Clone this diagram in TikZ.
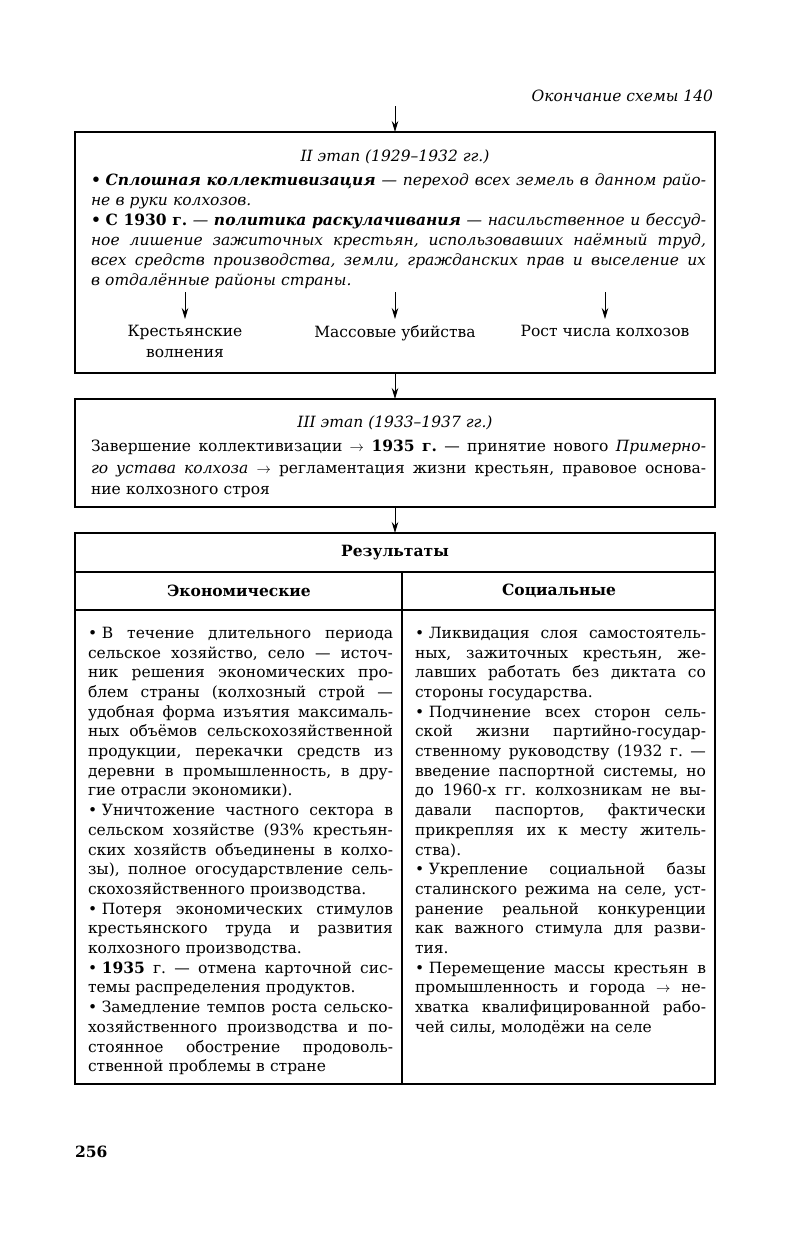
\documentclass[tikz,border=0pt]{standalone}
\usepackage{fontspec}
\setmainfont{DejaVu Serif}
\usetikzlibrary{arrows.meta}
\newcommand{\JX}[2]{\leavevmode\hbox to #1{\frenchspacing\spaceskip=0.3em plus 3em minus 0.08em\relax #2}}
\newcommand{\JB}[1]{\JX{615pt}{#1}}
\newcommand{\JL}[1]{\JX{305pt}{#1}}
\newcommand{\JR}[1]{\JX{291pt}{#1}}
\newcommand{\bi}[1]{\textbf{\textit{#1}}}
\newcommand{\B}{•\hspace{0.3em}}
\begin{document}
\begin{tikzpicture}[x=1pt,y=-1pt,
  every node/.style={inner sep=0pt, outer sep=0pt},
  basefont/.style={font=\fontsize{15.5}{20}\selectfont},
  txt/.style={font=\fontsize{15.5}{19.7}\selectfont, align=left, anchor=north west},
  frame/.style={draw, line width=1.2pt},
  arr/.style={-{Stealth[length=11pt,width=6.5pt]}, line width=1pt}]
\useasboundingbox (0,0) rectangle (791,1245);

\node[anchor=east, font=\fontsize{15.5}{20}\selectfont\itshape] (hdr) at (713,96) {Окончание схемы 140};

% boxes
\node[frame, minimum width=640pt, minimum height=241pt] (stage2) at (395,252.5) {};
\node[frame, minimum width=640pt, minimum height=108pt] (stage3) at (395,453) {};
\node[frame, minimum width=640pt, minimum height=551pt] (results) at (395,808.5) {};

\coordinate (top) at (395,106);
\draw[arr] (top) -- (stage2.north);
\draw[arr] (stage2.south) -- (stage3.north);
\draw[arr] (stage3.south) -- (results.north);

% stage II
\node[font=\fontsize{15.5}{20}\selectfont\itshape] (t2) at (395,157) {II этап (1929–1932 гг.)};
\node[txt, text width=615pt, font=\fontsize{15.5}{20}\selectfont\itshape] (s2text) at (91,174) {%
\JB{\textbf{\B}\bi{Сплошная коллективизация} — переход всех земель в данном райо-}\\
не в руки колхозов.\\
\JB{\textbf{\B}\textbf{\upshape С 1930 г.} — \bi{политика раскулачивания} — насильственное и бессуд-}\\
\JB{ное лишение зажиточных крестьян, использовавших наёмный труд,}\\
\JB{всех средств производства, земли, гражданских прав и выселение их}\\
в отдалённые районы страны.};

\node[align=center, anchor=north, font=\fontsize{15.5}{21}\selectfont] (k1) at (185,325) {Крестьянские\\волнения};
\node[basefont, anchor=north] (k2) at (395,325) {Массовые убийства};
\node[basefont, anchor=north] (k3) at (605,325) {Рост числа колхозов};
\coordinate (a1) at (185,292);
\coordinate (a2) at (395,292);
\coordinate (a3) at (605,292);
\draw[arr, shorten >=6pt] (a1) -- (k1.north);
\draw[arr, shorten >=6pt] (a2) -- (k2.north);
\draw[arr, shorten >=6pt] (a3) -- (k3.north);

% stage III
\node[font=\fontsize{15.5}{20}\selectfont\itshape] (t3) at (395,423) {III этап (1933–1937 гг.)};
\node[txt, text width=615pt, font=\fontsize{15.5}{21.5}\selectfont] (s3text) at (91,440) {%
\JB{Завершение коллективизации $\rightarrow$ \textbf{1935 г.} — принятие нового \textit{Примерно-}}\\
\JB{\textit{го устава колхоза} $\rightarrow$ регламентация жизни крестьян, правовое основа-}\\
ние колхозного строя};

% table
\draw[frame] (results.west |- 0,572) -- (results.east |- 0,572);
\draw[frame] (results.west |- 0,610) -- (results.east |- 0,610);
\draw[frame] (402,572) -- (results.south -| 402,0);
\node[font=\fontsize{15.5}{20}\selectfont\bfseries] (res) at (395,553) {Результаты};
\node[font=\fontsize{15.5}{20}\selectfont\bfseries] (econ) at (239,591) {Экономические};
\node[font=\fontsize{15.5}{20}\selectfont\bfseries] (soc) at (559,591) {Социальные};

\node[txt, text width=305pt] (left) at (88,627) {%
\JL{\B В течение длительного периода}\\
\JL{сельское хозяйство, село — источ-}\\
\JL{ник решения экономических про-}\\
\JL{блем страны (колхозный строй —}\\
\JL{удобная форма изъятия максималь-}\\
\JL{ных объёмов сельскохозяйственной}\\
\JL{продукции, перекачки средств из}\\
\JL{деревни в промышленность, в дру-}\\
гие отрасли экономики).\\
\JL{\B Уничтожение частного сектора в}\\
\JL{сельском хозяйстве (93\% крестьян-}\\
\JL{ских хозяйств объединены в колхо-}\\
\JL{зы), полное огосударствление сель-}\\
скохозяйственного производства.\\
\JL{\B Потеря экономических стимулов}\\
\JL{крестьянского труда и развития}\\
колхозного производства.\\
\JL{\B\textbf{1935} г. — отмена карточной сис-}\\
темы распределения продуктов.\\
\JL{\B Замедление темпов роста сельско-}\\
\JL{хозяйственного производства и по-}\\
\JL{стоянное обострение продоволь-}\\
ственной проблемы в стране};

\node[txt, text width=291pt] (right) at (415,627) {%
\JR{\B Ликвидация слоя самостоятель-}\\
\JR{ных, зажиточных крестьян, же-}\\
\JR{лавших работать без диктата со}\\
стороны государства.\\
\JR{\B Подчинение всех сторон сель-}\\
\JR{ской жизни партийно-государ-}\\
\JR{ственному руководству (1932 г. —}\\
\JR{введение паспортной системы, но}\\
\JR{до 1960-х гг. колхозникам не вы-}\\
\JR{давали паспортов, фактически}\\
\JR{прикрепляя их к месту житель-}\\
ства).\\
\JR{\B Укрепление социальной базы}\\
\JR{сталинского режима на селе, уст-}\\
\JR{ранение реальной конкуренции}\\
\JR{как важного стимула для разви-}\\
тия.\\
\JR{\B Перемещение массы крестьян в}\\
\JR{промышленность и города $\rightarrow$ не-}\\
\JR{хватка квалифицированной рабо-}\\
чей силы, молодёжи на селе};

\node[anchor=west, font=\fontsize{15.5}{20}\selectfont\bfseries] (pg) at (75,1152) {256};
\end{tikzpicture}
\end{document}
